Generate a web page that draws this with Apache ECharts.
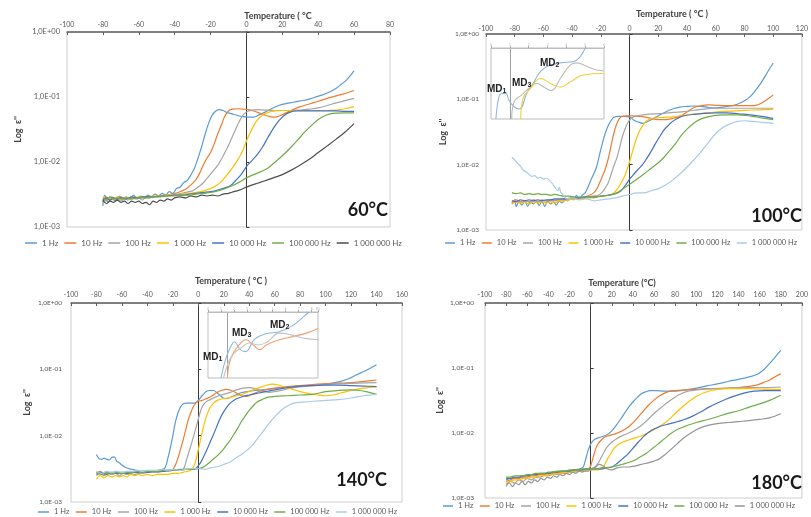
<!DOCTYPE html>
<html><head><meta charset="utf-8">
<script src="https://cdn.jsdelivr.net/npm/echarts@6/dist/echarts.min.js"></script>
<style>html,body{margin:0;padding:0;background:#fff}#c{width:811px;height:517px}</style>
</head><body><div id="c"></div>
<script>
// ---------- DATA ----------
const freqNames = ['1 Hz','10 Hz','100 Hz','1 000 Hz','10 000 Hz','100 000 Hz','1 000 000 Hz'];
const yTickLabels = {'-3':'1,0E-03','-2':'1,0E-02','-1':'1,0E-01','0':'1,0E+00'};
const xRange60 = [-100, 80], xRange100 = [-100, 120], xRange140 = [-100, 160], xRange180 = [-100, 200];
const panelTitles = ['60°C','100°C','140°C','180°C'];
const axisTitles = ['Temperature ( °C','Temperature ( °C )','Temperature ( °C )','Temperature (°C)'];

// ----- 60 °C -----
const p60_1Hz = [[-80,0.0021],[-79,0.0031],[-77,0.0024],[-75,0.0029],[-73,0.0025],[-71,0.0030],[-69,0.0026],[-67,0.0029],[-65,0.0027],[-63,0.0031],[-61,0.0027],[-59,0.0030],[-57,0.0028],[-55,0.0031],[-53,0.0029],[-51,0.0032],[-49,0.0030],[-47,0.0033],[-45,0.0031],[-43,0.0035],[-41,0.0033],[-39,0.0039],[-37,0.0041],[-35,0.0048],[-33,0.0052],[-31,0.0063],[-29,0.0080],[-27,0.0115],[-25,0.017],[-23,0.027],[-21,0.040],[-19,0.053],[-17,0.061],[-15,0.064],[-13,0.062],[-11,0.058],[-8,0.055],[-5,0.052],[-2,0.050],[1,0.049],[4,0.049],[7,0.053],[10,0.058],[14,0.066],[18,0.074],[22,0.079],[26,0.083],[30,0.087],[34,0.091],[38,0.099],[42,0.107],[46,0.118],[50,0.136],[53,0.158],[56,0.185],[58,0.215],[60,0.255]];
const p60_10Hz = [[-80,0.0024],[-78,0.0029],[-76,0.0026],[-74,0.0028],[-72,0.0026],[-70,0.0029],[-68,0.0027],[-66,0.0028],[-64,0.0027],[-62,0.0029],[-60,0.0028],[-58,0.0029],[-56,0.0028],[-54,0.0030],[-52,0.0029],[-50,0.0030],[-48,0.0030],[-46,0.0031],[-44,0.0031],[-42,0.0032],[-40,0.0033],[-38,0.0034],[-36,0.0036],[-34,0.0038],[-32,0.0042],[-30,0.0047],[-28,0.0054],[-26,0.0068],[-24,0.0090],[-22,0.0115],[-20,0.0140],[-18,0.019],[-16,0.027],[-14,0.037],[-12,0.051],[-10,0.061],[-8,0.065],[-5,0.066],[-2,0.065],[1,0.064],[4,0.061],[7,0.057],[10,0.053],[13,0.050],[16,0.049],[19,0.052],[22,0.057],[26,0.064],[30,0.071],[35,0.078],[40,0.086],[45,0.095],[50,0.104],[55,0.113],[60,0.126]];
const p60_100Hz = [[-80,0.0027],[-78,0.0025],[-76,0.0029],[-74,0.0026],[-72,0.0028],[-70,0.0025],[-68,0.0028],[-66,0.0026],[-64,0.0029],[-62,0.0027],[-60,0.0028],[-58,0.0026],[-56,0.0029],[-54,0.0028],[-52,0.0030],[-50,0.0029],[-48,0.0030],[-46,0.0030],[-44,0.0031],[-42,0.0031],[-40,0.0032],[-38,0.0032],[-36,0.0033],[-34,0.0034],[-32,0.0035],[-30,0.0036],[-28,0.0039],[-26,0.0043],[-24,0.0048],[-22,0.0056],[-20,0.0065],[-18,0.0076],[-16,0.0089],[-14,0.0110],[-12,0.0140],[-10,0.0180],[-8,0.024],[-6,0.032],[-4,0.042],[-2,0.052],[0,0.059],[3,0.063],[6,0.064],[10,0.063],[15,0.062],[20,0.062],[25,0.062],[30,0.063],[35,0.065],[40,0.068],[45,0.074],[50,0.081],[55,0.088],[60,0.095]];
const p60_1kHz = [[-80,0.0029],[-78,0.0027],[-76,0.0028],[-74,0.0027],[-72,0.0029],[-70,0.0027],[-68,0.0028],[-66,0.0028],[-64,0.0029],[-62,0.0028],[-60,0.0029],[-56,0.0029],[-52,0.0030],[-48,0.0030],[-44,0.0031],[-40,0.0031],[-36,0.0032],[-32,0.0033],[-28,0.0034],[-24,0.0036],[-20,0.0039],[-17,0.0043],[-14,0.0050],[-12,0.0058],[-10,0.0068],[-8,0.0080],[-6,0.0096],[-4,0.0118],[-2,0.0150],[0,0.021],[2,0.028],[4,0.036],[6,0.044],[8,0.050],[10,0.055],[13,0.059],[16,0.061],[20,0.062],[25,0.062],[30,0.062],[35,0.062],[40,0.062],[45,0.062],[50,0.063],[55,0.066],[60,0.071]];
const p60_10kHz = [[-80,0.0026],[-78,0.0028],[-76,0.0026],[-74,0.0028],[-72,0.0027],[-70,0.0028],[-67,0.0027],[-64,0.0029],[-61,0.0028],[-58,0.0029],[-55,0.0029],[-52,0.0029],[-48,0.0030],[-44,0.0030],[-40,0.0031],[-36,0.0031],[-32,0.0032],[-28,0.0033],[-24,0.0034],[-20,0.0035],[-16,0.0037],[-12,0.0040],[-9,0.0043],[-6,0.0052],[-3,0.0064],[0,0.0085],[3,0.0105],[6,0.0130],[9,0.0170],[12,0.024],[15,0.033],[18,0.043],[21,0.052],[24,0.058],[28,0.061],[33,0.061],[40,0.061],[45,0.061],[50,0.061],[55,0.060],[60,0.060]];
const p60_100kHz = [[-80,0.0028],[-78,0.0026],[-76,0.0029],[-74,0.0027],[-72,0.0028],[-70,0.0027],[-67,0.0028],[-64,0.0027],[-61,0.0028],[-58,0.0028],[-55,0.0028],[-52,0.0029],[-48,0.0029],[-44,0.0030],[-40,0.0030],[-36,0.0031],[-32,0.0031],[-28,0.0032],[-24,0.0033],[-20,0.0034],[-16,0.0036],[-12,0.0039],[-8,0.0043],[-4,0.0049],[0,0.0057],[4,0.0064],[8,0.0071],[12,0.0081],[16,0.0100],[20,0.0125],[24,0.0160],[28,0.021],[32,0.028],[36,0.036],[40,0.045],[44,0.052],[48,0.056],[54,0.057],[60,0.057]];
const p60_1MHz = [[-80,0.0026],[-78,0.0023],[-76,0.0025],[-74,0.0024],[-72,0.0026],[-70,0.0024],[-68,0.0025],[-66,0.0023],[-64,0.0025],[-62,0.0024],[-60,0.0025],[-58,0.0023],[-56,0.0024],[-54,0.0022],[-52,0.0025],[-50,0.0024],[-48,0.0026],[-46,0.0025],[-44,0.0027],[-42,0.0026],[-40,0.0028],[-37,0.0029],[-34,0.0028],[-31,0.0030],[-28,0.0029],[-25,0.0031],[-22,0.0030],[-19,0.0031],[-16,0.0030],[-13,0.0032],[-10,0.0033],[-7,0.0035],[-4,0.0037],[0,0.0041],[5,0.0046],[10,0.0051],[15,0.0057],[20,0.0064],[25,0.0075],[30,0.0090],[35,0.0110],[40,0.0140],[45,0.0177],[50,0.0225],[55,0.029],[60,0.039]];

// ----- 100 °C -----
const p100_1Hz = [[-82,0.0025],[-80,0.0029],[-79,0.0023],[-77,0.0027],[-75,0.0024],[-73,0.0028],[-71,0.0023],[-69,0.0027],[-67,0.0025],[-65,0.0028],[-63,0.0024],[-61,0.0027],[-59,0.0023],[-57,0.0028],[-55,0.0025],[-53,0.0027],[-51,0.0024],[-49,0.0028],[-47,0.0026],[-45,0.0029],[-43,0.0028],[-41,0.0031],[-39,0.0029],[-37,0.0034],[-35,0.0030],[-33,0.0034],[-31,0.0037],[-29,0.0045],[-27,0.0058],[-25,0.0072],[-23,0.0092],[-21,0.014],[-19,0.021],[-17,0.030],[-15,0.039],[-13,0.047],[-11,0.053],[-8,0.055],[-4,0.055],[0,0.054],[3,0.048],[6,0.045],[9,0.043],[12,0.045],[16,0.050],[20,0.056],[25,0.064],[30,0.071],[35,0.076],[40,0.078],[45,0.079],[50,0.078],[55,0.075],[60,0.074],[65,0.076],[70,0.079],[75,0.084],[80,0.095],[84,0.110],[88,0.140],[92,0.185],[96,0.26],[100,0.36]];
const p100_10Hz = [[-82,0.0027],[-79,0.0029],[-76,0.0027],[-73,0.0028],[-70,0.0027],[-67,0.0029],[-64,0.0027],[-61,0.0028],[-58,0.0028],[-55,0.0029],[-52,0.0028],[-49,0.0029],[-46,0.0029],[-43,0.0030],[-40,0.0030],[-36,0.0031],[-32,0.0032],[-28,0.0034],[-25,0.0037],[-23,0.0042],[-21,0.0052],[-19,0.0066],[-17,0.0085],[-15,0.0120],[-13,0.019],[-11,0.030],[-9,0.042],[-7,0.051],[-5,0.055],[-2,0.056],[2,0.056],[6,0.055],[10,0.054],[15,0.051],[20,0.049],[25,0.049],[30,0.051],[35,0.055],[40,0.064],[45,0.075],[50,0.080],[55,0.082],[60,0.081],[70,0.080],[80,0.080],[88,0.081],[92,0.088],[96,0.100],[100,0.117]];
const p100_100Hz = [[-82,0.0026],[-79,0.0028],[-76,0.0026],[-73,0.0028],[-70,0.0027],[-67,0.0028],[-64,0.0027],[-61,0.0029],[-58,0.0028],[-55,0.0028],[-52,0.0029],[-49,0.0029],[-46,0.0030],[-42,0.0030],[-38,0.0031],[-34,0.0031],[-30,0.0032],[-26,0.0033],[-22,0.0034],[-19,0.0038],[-17,0.0044],[-15,0.0052],[-13,0.0070],[-11,0.0095],[-9,0.0125],[-7,0.018],[-5,0.027],[-3,0.036],[-1,0.045],[1,0.051],[4,0.055],[7,0.057],[12,0.059],[18,0.060],[24,0.061],[30,0.063],[38,0.065],[45,0.068],[52,0.071],[60,0.073],[70,0.073],[80,0.073],[90,0.073],[100,0.073]];
const p100_1kHz = [[-82,0.0025],[-79,0.0027],[-76,0.0026],[-73,0.0027],[-70,0.0025],[-67,0.0027],[-64,0.0026],[-61,0.0027],[-58,0.0026],[-55,0.0027],[-52,0.0026],[-49,0.0028],[-46,0.0028],[-42,0.0029],[-38,0.0030],[-34,0.0030],[-30,0.0031],[-26,0.0031],[-22,0.0032],[-18,0.0033],[-14,0.0034],[-11,0.0037],[-9,0.0041],[-6,0.0052],[-3,0.0070],[-1,0.0095],[1,0.0132],[3,0.019],[5,0.026],[7,0.033],[9,0.039],[11,0.045],[14,0.050],[18,0.052],[24,0.053],[30,0.054],[40,0.058],[50,0.061],[60,0.064],[70,0.066],[80,0.068],[90,0.069],[100,0.070]];
const p100_10kHz = [[-82,0.0028],[-79,0.0027],[-76,0.0029],[-73,0.0028],[-70,0.0029],[-67,0.0028],[-64,0.0029],[-61,0.0028],[-58,0.0029],[-55,0.0029],[-52,0.0030],[-48,0.0030],[-44,0.0030],[-40,0.0031],[-35,0.0031],[-30,0.0032],[-25,0.0032],[-20,0.0033],[-15,0.0034],[-10,0.0036],[-6,0.0040],[-3,0.0048],[0,0.0060],[3,0.0072],[6,0.0085],[9,0.0100],[12,0.0125],[15,0.0160],[18,0.021],[21,0.027],[24,0.034],[27,0.040],[30,0.046],[34,0.052],[38,0.056],[45,0.059],[52,0.061],[60,0.062],[68,0.062],[76,0.060],[84,0.058],[92,0.055],[100,0.051]];
const p100_100kHz = [[-82,0.0037],[-79,0.0036],[-76,0.0037],[-73,0.0035],[-70,0.0036],[-67,0.0035],[-64,0.0036],[-61,0.0035],[-58,0.0035],[-55,0.0034],[-52,0.0035],[-49,0.0034],[-46,0.0033],[-42,0.0033],[-38,0.0032],[-34,0.0032],[-30,0.0032],[-25,0.0032],[-20,0.0033],[-15,0.0034],[-10,0.0036],[-5,0.0042],[0,0.0050],[5,0.0060],[10,0.0072],[15,0.0088],[20,0.0107],[24,0.0130],[28,0.0165],[32,0.021],[36,0.028],[40,0.035],[44,0.042],[48,0.048],[53,0.053],[58,0.056],[65,0.058],[75,0.058],[85,0.055],[92,0.052],[100,0.049]];
const p100_1MHz = [[-82,0.0130],[-80,0.0118],[-78,0.0105],[-76,0.0095],[-74,0.0082],[-72,0.0078],[-70,0.0071],[-68,0.0066],[-66,0.0068],[-64,0.0062],[-62,0.0064],[-60,0.0060],[-58,0.0062],[-56,0.0058],[-54,0.0052],[-52,0.0045],[-50,0.0040],[-49,0.0045],[-48,0.0038],[-46,0.0034],[-44,0.0030],[-40,0.0031],[-35,0.0029],[-30,0.0030],[-25,0.0028],[-20,0.0029],[-15,0.0030],[-10,0.0031],[-5,0.0033],[0,0.0035],[5,0.0037],[10,0.0037],[15,0.0040],[20,0.0043],[25,0.0049],[30,0.0058],[35,0.0072],[40,0.0092],[45,0.0120],[50,0.0160],[55,0.022],[60,0.030],[65,0.037],[70,0.042],[75,0.046],[80,0.047],[85,0.046],[90,0.045],[95,0.044],[100,0.043]];

// ----- 140 °C -----
const p140_1Hz = [[-80,0.0052],[-78,0.0045],[-76,0.0044],[-74,0.0046],[-72,0.0044],[-70,0.0043],[-68,0.0047],[-66,0.0048],[-64,0.0041],[-62,0.0039],[-60,0.0036],[-58,0.0034],[-55,0.0032],[-52,0.0031],[-48,0.0030],[-44,0.0029],[-40,0.0030],[-36,0.0029],[-32,0.0030],[-28,0.0031],[-26,0.0033],[-24,0.0045],[-22,0.0065],[-20,0.0100],[-18,0.0160],[-16,0.022],[-14,0.027],[-12,0.030],[-9,0.031],[-6,0.031],[-3,0.031],[0,0.034],[3,0.040],[6,0.046],[9,0.048],[12,0.048],[15,0.044],[18,0.039],[21,0.036],[24,0.037],[28,0.040],[33,0.044],[38,0.046],[45,0.048],[55,0.050],[65,0.053],[75,0.055],[85,0.057],[95,0.058],[105,0.062],[112,0.066],[118,0.072],[124,0.082],[130,0.093],[135,0.104],[140,0.117]];
const p140_10Hz = [[-80,0.0027],[-77,0.0029],[-74,0.0026],[-71,0.0028],[-68,0.0027],[-65,0.0029],[-62,0.0027],[-59,0.0028],[-56,0.0027],[-53,0.0029],[-50,0.0028],[-47,0.0029],[-44,0.0028],[-41,0.0029],[-38,0.0028],[-35,0.0029],[-32,0.0029],[-29,0.0029],[-26,0.0030],[-23,0.0030],[-20,0.0031],[-18,0.0036],[-16,0.0046],[-14,0.0062],[-12,0.0085],[-10,0.0120],[-8,0.0170],[-6,0.022],[-4,0.027],[-2,0.031],[0,0.033],[3,0.034],[6,0.036],[10,0.039],[14,0.044],[18,0.048],[22,0.050],[26,0.048],[30,0.044],[34,0.040],[38,0.039],[42,0.042],[46,0.045],[52,0.049],[60,0.052],[70,0.055],[80,0.057],[90,0.059],[100,0.061],[110,0.062],[120,0.063],[130,0.066],[140,0.069]];
const p140_100Hz = [[-80,0.0025],[-77,0.0027],[-74,0.0025],[-71,0.0027],[-68,0.0026],[-65,0.0027],[-62,0.0025],[-59,0.0027],[-56,0.0026],[-53,0.0027],[-50,0.0026],[-47,0.0027],[-44,0.0027],[-40,0.0028],[-36,0.0028],[-32,0.0028],[-28,0.0029],[-24,0.0029],[-20,0.0030],[-16,0.0030],[-12,0.0031],[-9,0.0045],[-7,0.0060],[-5,0.0080],[-3,0.0110],[-1,0.0150],[1,0.021],[3,0.027],[5,0.031],[8,0.034],[12,0.037],[16,0.040],[20,0.042],[25,0.045],[30,0.049],[35,0.052],[40,0.053],[45,0.051],[50,0.047],[55,0.045],[60,0.046],[67,0.049],[75,0.053],[85,0.056],[95,0.058],[105,0.060],[115,0.061],[125,0.062],[140,0.063]];
const p140_1kHz = [[-80,0.0022],[-77,0.0025],[-74,0.0023],[-71,0.0025],[-68,0.0024],[-65,0.0025],[-62,0.0024],[-59,0.0025],[-56,0.0024],[-53,0.0026],[-50,0.0025],[-47,0.0026],[-44,0.0025],[-40,0.0026],[-36,0.0025],[-32,0.0026],[-28,0.0026],[-24,0.0026],[-20,0.0027],[-16,0.0027],[-12,0.0028],[-9,0.0029],[-6,0.0030],[-3,0.0036],[-1,0.0050],[1,0.0075],[3,0.0110],[5,0.0160],[7,0.021],[9,0.026],[12,0.031],[15,0.034],[19,0.036],[23,0.037],[28,0.039],[33,0.041],[38,0.045],[43,0.049],[48,0.053],[53,0.057],[58,0.060],[63,0.058],[68,0.054],[74,0.050],[80,0.046],[87,0.043],[94,0.041],[100,0.040],[106,0.041],[112,0.044],[120,0.048],[130,0.052],[140,0.055]];
const p140_10kHz = [[-80,0.0026],[-76,0.0028],[-72,0.0026],[-68,0.0028],[-64,0.0027],[-60,0.0028],[-56,0.0027],[-52,0.0028],[-48,0.0028],[-44,0.0029],[-40,0.0028],[-36,0.0029],[-32,0.0029],[-28,0.0029],[-24,0.0030],[-20,0.0030],[-15,0.0030],[-10,0.0031],[-6,0.0031],[-2,0.0032],[2,0.0040],[5,0.0052],[8,0.0070],[11,0.0095],[14,0.0130],[17,0.0180],[20,0.023],[23,0.028],[26,0.032],[30,0.036],[35,0.039],[40,0.041],[45,0.043],[50,0.045],[55,0.047],[62,0.050],[70,0.053],[80,0.056],[90,0.057],[100,0.058],[110,0.058],[120,0.057],[130,0.056],[140,0.055]];
const p140_100kHz = [[-80,0.0028],[-76,0.0026],[-72,0.0028],[-68,0.0027],[-64,0.0028],[-60,0.0027],[-56,0.0028],[-52,0.0028],[-48,0.0029],[-44,0.0028],[-40,0.0029],[-36,0.0029],[-32,0.0029],[-28,0.0030],[-24,0.0030],[-20,0.0030],[-15,0.0031],[-10,0.0031],[-5,0.0031],[0,0.0032],[3,0.0033],[7,0.0037],[11,0.0043],[15,0.0050],[19,0.0060],[22,0.0072],[25,0.0085],[28,0.0105],[31,0.0130],[34,0.0165],[37,0.020],[40,0.024],[43,0.028],[46,0.032],[50,0.035],[55,0.038],[60,0.039],[70,0.040],[80,0.041],[90,0.042],[100,0.046],[110,0.048],[120,0.049],[127,0.048],[134,0.045],[140,0.042]];
const p140_1MHz = [[-80,0.0029],[-76,0.0027],[-72,0.0029],[-68,0.0028],[-64,0.0029],[-60,0.0028],[-56,0.0029],[-52,0.0029],[-48,0.0030],[-44,0.0029],[-40,0.0030],[-36,0.0030],[-32,0.0030],[-28,0.0031],[-24,0.0030],[-20,0.0031],[-15,0.0030],[-10,0.0031],[-5,0.0032],[0,0.0032],[5,0.0031],[10,0.0033],[15,0.0034],[20,0.0037],[25,0.0040],[30,0.0047],[34,0.0052],[38,0.0060],[42,0.0070],[46,0.0088],[50,0.0110],[54,0.0140],[58,0.0175],[62,0.021],[66,0.025],[70,0.028],[75,0.031],[82,0.032],[90,0.033],[100,0.034],[110,0.035],[120,0.037],[130,0.040],[140,0.042]];

// ----- 180 °C -----
const p180_1Hz = [[-80,0.0019],[-75,0.0020],[-70,0.0020],[-65,0.0021],[-60,0.0022],[-55,0.0022],[-50,0.0023],[-45,0.0023],[-40,0.0024],[-35,0.0025],[-30,0.0025],[-25,0.0026],[-20,0.0026],[-15,0.0027],[-10,0.0028],[-7,0.0030],[-5,0.0038],[-3,0.0050],[-1,0.0062],[1,0.0072],[4,0.0080],[8,0.0085],[12,0.0089],[16,0.0095],[20,0.0108],[24,0.0130],[28,0.0160],[32,0.020],[36,0.025],[40,0.030],[44,0.035],[48,0.040],[52,0.043],[56,0.045],[62,0.045],[70,0.044],[80,0.044],[90,0.046],[100,0.049],[110,0.053],[120,0.057],[130,0.062],[140,0.067],[150,0.073],[158,0.080],[164,0.095],[170,0.120],[175,0.150],[180,0.187]];
const p180_10Hz = [[-80,0.0018],[-76,0.0019],[-72,0.0020],[-68,0.0020],[-64,0.0021],[-60,0.0021],[-56,0.0022],[-52,0.0022],[-48,0.0023],[-44,0.0023],[-40,0.0024],[-36,0.0024],[-32,0.0025],[-28,0.0025],[-24,0.0026],[-20,0.0026],[-16,0.0026],[-12,0.0027],[-8,0.0027],[-4,0.0028],[-1,0.0029],[1,0.0035],[3,0.0046],[5,0.0058],[7,0.0068],[10,0.0078],[13,0.0086],[18,0.0092],[24,0.0098],[30,0.0108],[36,0.0125],[42,0.0155],[48,0.020],[54,0.026],[60,0.032],[65,0.037],[70,0.041],[75,0.044],[80,0.045],[90,0.046],[100,0.047],[110,0.048],[120,0.048],[130,0.049],[140,0.050],[150,0.052],[158,0.055],[164,0.060],[170,0.066],[175,0.074],[180,0.082]];
const p180_100Hz = [[-80,0.0016],[-76,0.0018],[-72,0.0017],[-68,0.0019],[-64,0.0018],[-60,0.0020],[-56,0.0019],[-52,0.0021],[-48,0.0021],[-44,0.0022],[-40,0.0022],[-36,0.0023],[-32,0.0023],[-28,0.0024],[-24,0.0024],[-20,0.0025],[-16,0.0025],[-12,0.0026],[-8,0.0026],[-4,0.0027],[0,0.0028],[4,0.0030],[7,0.0034],[10,0.0042],[13,0.0052],[16,0.0062],[20,0.0072],[25,0.0082],[30,0.0091],[36,0.0100],[42,0.0112],[48,0.0130],[54,0.0160],[60,0.020],[66,0.024],[72,0.029],[78,0.034],[84,0.039],[90,0.043],[96,0.045],[105,0.047],[115,0.048],[130,0.049],[150,0.050],[165,0.050],[180,0.051]];
const p180_1kHz = [[-80,0.0017],[-76,0.0018],[-72,0.0019],[-68,0.0019],[-64,0.0020],[-60,0.0020],[-56,0.0021],[-52,0.0021],[-48,0.0022],[-44,0.0022],[-40,0.0023],[-36,0.0023],[-32,0.0024],[-28,0.0024],[-24,0.0025],[-20,0.0025],[-16,0.0026],[-12,0.0026],[-8,0.0026],[-4,0.0027],[0,0.0027],[5,0.0027],[10,0.0028],[13,0.0032],[16,0.0040],[19,0.0048],[22,0.0058],[26,0.0066],[30,0.0072],[36,0.0078],[42,0.0084],[48,0.0090],[54,0.0100],[60,0.0112],[66,0.0128],[72,0.0150],[78,0.0185],[84,0.023],[90,0.028],[96,0.033],[102,0.038],[108,0.042],[114,0.045],[120,0.047],[130,0.048],[140,0.048],[150,0.048],[165,0.047],[180,0.047]];
const p180_10kHz = [[-80,0.0020],[-76,0.0020],[-72,0.0021],[-68,0.0021],[-64,0.0022],[-60,0.0022],[-56,0.0023],[-52,0.0023],[-48,0.0024],[-44,0.0024],[-40,0.0024],[-36,0.0025],[-32,0.0025],[-28,0.0026],[-24,0.0026],[-20,0.0026],[-16,0.0027],[-12,0.0027],[-8,0.0027],[-4,0.0028],[0,0.0028],[5,0.0028],[10,0.0028],[15,0.0029],[20,0.0030],[25,0.0034],[30,0.0040],[35,0.0047],[40,0.0058],[45,0.0072],[50,0.0088],[55,0.0103],[60,0.0115],[66,0.0127],[72,0.0135],[80,0.0146],[88,0.0160],[96,0.0180],[104,0.021],[112,0.025],[120,0.029],[128,0.033],[136,0.037],[145,0.041],[155,0.044],[165,0.045],[180,0.045]];
const p180_100kHz = [[-80,0.0021],[-76,0.0021],[-72,0.0022],[-68,0.0022],[-64,0.0022],[-60,0.0023],[-56,0.0023],[-52,0.0024],[-48,0.0024],[-44,0.0024],[-40,0.0025],[-36,0.0025],[-32,0.0026],[-28,0.0026],[-24,0.0026],[-20,0.0027],[-16,0.0027],[-12,0.0027],[-8,0.0028],[-4,0.0028],[0,0.0028],[5,0.0028],[10,0.0029],[20,0.0030],[30,0.0033],[40,0.0037],[46,0.0042],[52,0.0048],[58,0.0057],[64,0.0068],[70,0.0082],[76,0.0098],[82,0.0113],[90,0.0128],[100,0.0145],[110,0.0160],[120,0.0178],[130,0.020],[140,0.022],[150,0.025],[160,0.028],[170,0.032],[180,0.038]];
const p180_1MHz = [[-80,0.0015],[-77,0.0017],[-74,0.0015],[-71,0.0017],[-68,0.0016],[-65,0.0018],[-62,0.0016],[-59,0.0018],[-56,0.0017],[-53,0.0019],[-50,0.0018],[-47,0.0020],[-44,0.0019],[-41,0.0021],[-38,0.0020],[-35,0.0022],[-32,0.0021],[-29,0.0023],[-26,0.0022],[-23,0.0024],[-20,0.0023],[-17,0.0025],[-14,0.0024],[-11,0.0026],[-8,0.0025],[-5,0.0026],[-2,0.0026],[0,0.0027],[5,0.0030],[8,0.0033],[12,0.0031],[16,0.0028],[20,0.0027],[25,0.0029],[30,0.0030],[36,0.0030],[42,0.0031],[48,0.0033],[55,0.0035],[60,0.0037],[65,0.0040],[70,0.0046],[75,0.0054],[80,0.0064],[85,0.0076],[90,0.0088],[95,0.0100],[100,0.0112],[105,0.0122],[112,0.0132],[120,0.0139],[130,0.0145],[140,0.0150],[150,0.0155],[160,0.0162],[170,0.0172],[180,0.0198]];

// ----- insets (zoomed detail, arbitrary units) -----
const inset100_blue = [[0.26,0],[0.44,3.3],[0.61,3.6],[0.79,3.6],[0.96,2.6],[1.2,1.8],[1.49,1.4],[1.93,3.8],[2.28,5.2],[2.63,6.7],[2.98,7.4],[3.68,7.9],[4.39,8.1],[4.74,8.8],[5.0,10]];
const inset100_grey = [[1.1,0],[1.22,2.4],[1.58,3.3],[2.1,4.5],[2.45,5.0],[2.8,4.5],[3.2,4.0],[3.68,5.7],[4.2,7.6],[4.56,7.9],[5.1,7.4],[5.6,6.9],[5.96,6.8]];
const inset100_yellow = [[1.58,0],[1.7,2.9],[2.1,4.3],[2.63,5.7],[3.16,5.0],[3.68,4.5],[4.2,5.2],[4.9,6.2],[5.96,6.4]];
const inset140_blue = [[1.0,0],[1.39,3.0],[1.77,4.8],[2.03,5.5],[2.5,4.3],[2.9,4.0],[3.6,5.9],[4.5,6.7],[5.5,7.0],[6.5,7.9],[7.4,9.3],[7.8,10]];
const inset140_orange = [[1.5,0],[1.77,3.0],[2.4,5.0],[2.93,5.8],[3.6,4.8],[4.0,4.3],[4.5,5.0],[5.5,5.8],[6.6,6.3],[7.6,6.8],[8.5,7.5]];
const inset140_grey = [[1.2,0],[1.6,2.5],[2.0,3.7],[2.5,4.5],[3.2,5.3],[3.9,5.0],[4.6,5.5],[5.5,6.8],[6.5,6.5],[7.5,6.0],[8.5,5.8]];

// ---------- STYLE / LAYOUT ----------
const FONT = 'Lato, "Open Sans", sans-serif';
const baseColors = ['#5B9BD5','#ED7D31','#A5A5A5','#FFC000','#4472C4','#70AD47'];
const panels = [
  {box:[67,32,323,195], x:xRange60, series:[p60_1Hz,p60_10Hz,p60_100Hz,p60_1kHz,p60_10kHz,p60_100kHz,p60_1MHz], c7:'#4d4d4d',
   xm:4, ym:7, yfs:7.5, ng:44, leg:[25,239], lfs:8, lw:12, lg:6,
   title:[278,16], temp:[388,210]},
  {box:[486,34,321,196], x:xRange100, series:[p100_1Hz,p100_10Hz,p100_100Hz,p100_1kHz,p100_10kHz,p100_100kHz,p100_1MHz], c7:'#a9cbe8',
   xm:2, ym:7, yfs:6.5, ng:38, leg:[445,239], lfs:7.5, lw:10, lg:6.5,
   title:[672,14], temp:[802,216]},
  {box:[71,303,331,199], x:xRange140, series:[p140_1Hz,p140_10Hz,p140_100Hz,p140_1kHz,p140_10kHz,p140_100kHz,p140_1MHz], c7:'#a9cbe8',
   xm:5, ym:9, yfs:6.5, ng:39, leg:[38,508], lfs:7.5, lw:11, lg:6.5,
   title:[231,281], temp:[387,480]},
  {box:[485,303,322,195], x:xRange180, series:[p180_1Hz,p180_10Hz,p180_100Hz,p180_1kHz,p180_10kHz,p180_100kHz,p180_1MHz], c7:'#959595',
   xm:5, ym:11, yfs:6.5, ng:40, leg:[443,502], lfs:7.5, lw:10, lg:6.5,
   title:[622,283], temp:[802,483]}
];
const insets = [
  {box:[491,48,113,71], max:6, vline:1, series:[inset100_blue,inset100_grey,inset100_yellow], colors:['#8fb6de','#bdbdbd','#f2cd3c'],
   labels:[['1',487,83],['3',512,77],['2',540,57]]},
  {box:[208,312,110,66], max:8.5, vline:1.45, series:[inset140_blue,inset140_orange,inset140_grey], colors:['#8fb6de','#f0a070','#c4c4c4'],
   labels:[['1',203,351],['3',232,327],['2',270,319]]}
];

function yFmt(v){ const e = Math.round(Math.log10(v)); return yTickLabels[String(e)] || ''; }

const option = {animation:false, textStyle:{fontFamily:FONT}, grid:[], xAxis:[], yAxis:[], series:[], legend:[], graphic:[]};

panels.forEach((P, pi) => {
  const colors = baseColors.concat([P.c7]);
  option.grid.push({left:P.box[0], top:P.box[1], width:P.box[2], height:P.box[3], show:true, borderColor:'#cdcdcd', borderWidth:1, containLabel:false});
  const gi = option.grid.length - 1;
  option.xAxis.push({type:'value', gridIndex:gi, position:'top', min:P.x[0], max:P.x[1], interval:20,
    axisLine:{onZero:false, lineStyle:{color:'#5f5f5f', width:1.5}},
    axisTick:{show:true, inside:true, length:3, lineStyle:{color:'#5f5f5f'}},
    axisLabel:{fontSize:7, color:'#595959', margin:P.xm, fontFamily:FONT, showMinLabel:true, showMaxLabel:true, hideOverlap:false},
    splitLine:{show:false}});
  const xi = option.xAxis.length - 1;
  option.yAxis.push({type:'log', logBase:10, gridIndex:gi, position:'left', min:0.001, max:1,
    axisLine:{show:false, onZero:false}, axisTick:{show:false}, splitLine:{show:false},
    axisLabel:{fontSize:P.yfs, color:'#595959', margin:P.ym, formatter:yFmt, fontFamily:FONT},
    name:"Log  ε''", nameLocation:'middle', nameGap:P.ng, nameRotate:90,
    nameTextStyle:{fontSize:9, fontWeight:'bold', color:'#404040', fontFamily:FONT}});
  const yi = option.yAxis.length - 1;
  option.yAxis.push({type:'log', logBase:10, gridIndex:gi, position:'right', min:0.001, max:1,
    axisLine:{show:true, onZero:true, lineStyle:{color:'#3a3a3a', width:1}},
    axisTick:{show:true, inside:false, length:3, lineStyle:{color:'#3a3a3a'}},
    axisLabel:{show:false}, splitLine:{show:false}});
  P.series.forEach((d, k) => {
    option.series.push({type:'line', name:freqNames[k], xAxisIndex:xi, yAxisIndex:yi, data:d,
      showSymbol:false, symbol:'none', smooth:0.35, silent:true,
      lineStyle:{width:1.2, color:colors[k]}, itemStyle:{color:colors[k]}});
  });
  option.legend.push({left:P.leg[0], top:P.leg[1], width:400, padding:0, icon:'rect', itemWidth:P.lw, itemHeight:1.5, itemGap:P.lg,
    selectedMode:false, textStyle:{fontSize:P.lfs, color:'#595959', fontFamily:FONT},
    data:freqNames.map((n, k) => ({name:n, itemStyle:{color:colors[k]}}))});
  option.graphic.push({type:'text', x:P.title[0], y:P.title[1], silent:true,
    style:{text:axisTitles[pi], fill:'#404040', font:'bold 9px ' + FONT, align:'center', verticalAlign:'middle', textAlign:'center', textVerticalAlign:'middle'}});
  option.graphic.push({type:'text', x:P.temp[0], y:P.temp[1], silent:true,
    style:{text:panelTitles[pi], fill:'#1a1a1a', font:'bold 18px ' + FONT, align:'right', verticalAlign:'middle', textAlign:'right', textVerticalAlign:'middle'}});
});

insets.forEach(I => {
  option.grid.push({left:I.box[0], top:I.box[1], width:I.box[2], height:I.box[3], show:true, borderColor:'#bdbdbd', borderWidth:1, backgroundColor:'#fff', containLabel:false, z:5});
  const gi = option.grid.length - 1;
  option.xAxis.push({type:'value', gridIndex:gi, position:'top', min:0, max:I.max, interval:1,
    axisLine:{onZero:false, lineStyle:{color:'#bdbdbd', width:1}},
    axisTick:{show:true, inside:false, length:2, lineStyle:{color:'#aaa'}},
    axisLabel:{show:true, fontSize:3, color:'#aaa', margin:1}, splitLine:{show:false}, z:6});
  const xi = option.xAxis.length - 1;
  option.yAxis.push({type:'value', gridIndex:gi, min:0, max:10, show:false, axisLine:{onZero:false}, splitLine:{show:false}});
  const yi = option.yAxis.length - 1;
  I.series.forEach((d, k) => {
    const s = {type:'line', name:'inset' + gi + '_' + k, xAxisIndex:xi, yAxisIndex:yi, data:d, showSymbol:false, symbol:'none',
      smooth:0.45, silent:true, z:7, clip:true, lineStyle:{width:1.1, color:I.colors[k]}, itemStyle:{color:I.colors[k]}};
    if (k === 0) s.markLine = {silent:true, symbol:'none', label:{show:false}, lineStyle:{color:'#a0a0a0', width:1, type:'solid'}, data:[{xAxis:I.vline}]};
    option.series.push(s);
  });
  I.labels.forEach(L => {
    option.graphic.push({type:'text', x:L[1], y:L[2], z:100, silent:true,
      style:{text:'MD{s|' + L[0] + '}', fill:'#222', font:'bold 10px "Liberation Sans", Arial, sans-serif',
        rich:{s:{fontSize:7, fontWeight:'bold', fill:'#222', fontFamily:'"Liberation Sans", Arial, sans-serif', padding:[5,0,0,0]}}}});
  });
});

const chart = echarts.init(document.getElementById('c'), null, {renderer:'canvas'});
chart.setOption(option);
</script>
</body></html>
